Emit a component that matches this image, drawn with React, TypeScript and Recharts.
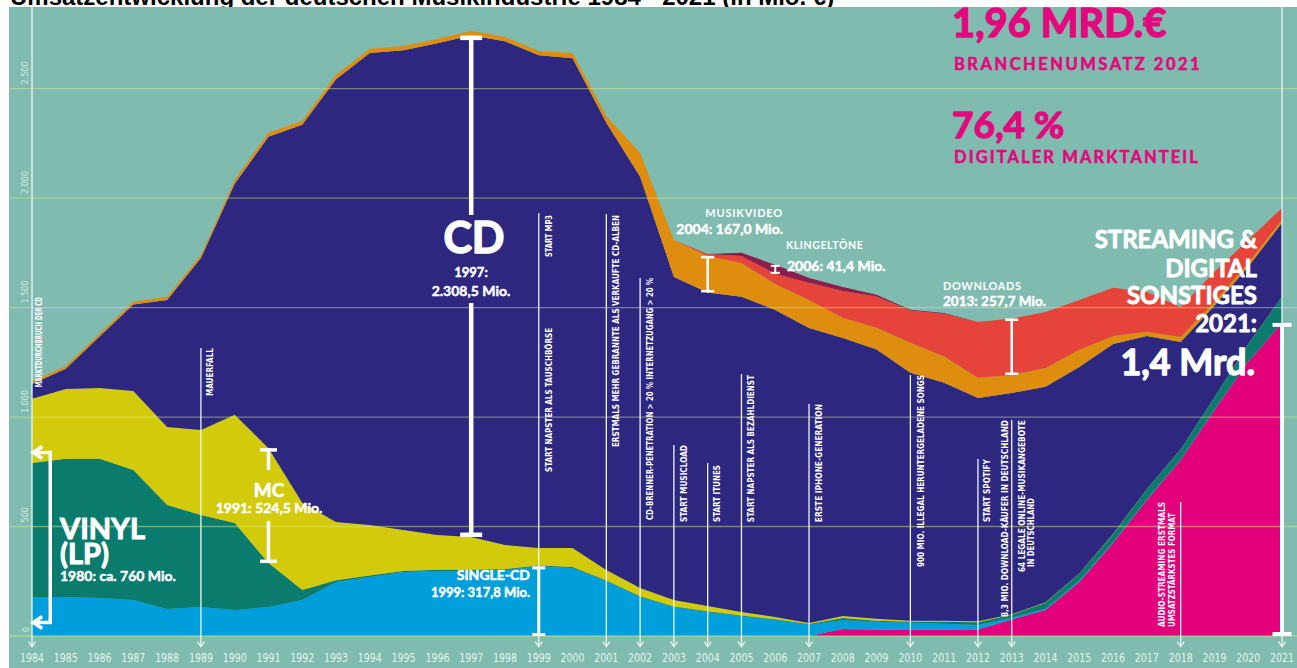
import React from 'react';
import { AreaChart, Area, XAxis, YAxis, ReferenceLine } from 'recharts';

// ---------- data (Mio. €) ----------
const years = [1984, 1985, 1986, 1987, 1988, 1989, 1990, 1991, 1992, 1993, 1994, 1995, 1996, 1997, 1998, 1999, 2000, 2001, 2002, 2003, 2004, 2005, 2006, 2007, 2008, 2009, 2010, 2011, 2012, 2013, 2014, 2015, 2016, 2017, 2018, 2019, 2020, 2021];
const streaming = [0, 0, 0, 0, 0, 0, 0, 0, 0, 0, 0, 0, 0, 0, 0, 0, 0, 0, 0, 0, 0, 0, 0, 0, 32, 28, 28, 28, 30, 75, 119, 247, 425, 621, 804, 1032, 1252, 1430];
const singles = [178, 178, 174, 164, 123, 132, 119, 132, 164, 247, 270, 292, 297, 297, 302, 318, 311, 251, 178, 132, 110, 91, 74, 52, 41, 37, 32, 28, 20, 8, 6, 5, 3, 3, 2, 2, 2, 1];
const vinyl = [612, 631, 635, 594, 475, 421, 397, 201, 46, 8, 6, 5, 5, 5, 4, 4, 4, 3, 3, 3, 3, 3, 3, 3, 9, 5, 5, 9, 13, 14, 27, 32, 37, 46, 46, 55, 78, 119];
const mc = [293, 319, 324, 361, 357, 388, 494, 525, 398, 266, 231, 187, 159, 150, 110, 80, 87, 47, 38, 29, 24, 16, 10, 4, 9, 9, 5, 5, 4, 2, 2, 2, 2, 1, 1, 1, 1, 1];
const cd = [68, 93, 235, 395, 580, 785, 1055, 1422, 1727, 2022, 2155, 2191, 2246, 2290, 2300, 2250, 2236, 2043, 1878, 1476, 1432, 1439, 1402, 1348, 1270, 1229, 1132, 1087, 1020, 1011, 984, 943, 867, 699, 490, 418, 353, 336];
const video = [10, 12, 12, 12, 14, 14, 18, 18, 18, 20, 20, 20, 20, 22, 20, 20, 25, 31, 109, 169, 167, 155, 119, 128, 92, 100, 137, 119, 92, 82, 86, 78, 36, 19, 23, 18, 18, 14];
const downloads = [0, 0, 0, 0, 0, 0, 0, 0, 0, 0, 0, 0, 0, 0, 0, 0, 0, 0, 0, 0, 9, 32, 46, 78, 123, 142, 147, 196, 255, 258, 256, 228, 220, 182, 137, 137, 105, 54];
const ringtones = [0, 0, 0, 0, 0, 0, 0, 0, 0, 0, 0, 0, 0, 0, 0, 0, 0, 0, 0, 0, 0, 14, 41, 22, 18, 9, 4, 3, 0, 0, 0, 0, 0, 0, 0, 0, 0, 0];

const yTicks = [0, 500, 1000, 1500, 2000, 2500];
const yTickLabels = ['0', '500', '1.000', '1.500', '2.000', '2.500'];

type Lbl = { text: string; dx: number; dy: number; anchor: 'start' | 'end'; len: number };
const events: { year: number; top: number; labels: Lbl[] }[] = [
  { year: 1984, top: 2872, labels: [{ text: 'MARKTDURCHBRUCH DER CD', dx: 7, dy: 380, anchor: 'start', len: 90 }] },
  { year: 1989, top: 1315, labels: [{ text: 'MAUERFALL', dx: 9, dy: 0, anchor: 'end', len: 48 }] },
  { year: 1999, top: 1932, labels: [{ text: 'START MP3', dx: 10, dy: 2, anchor: 'end', len: 42 }, { text: 'START NAPSTER ALS TAUSCHBÖRSE', dx: 10, dy: 115, anchor: 'end', len: 144 }] },
  { year: 2001, top: 1927, labels: [{ text: 'ERSTMALS MEHR GEBRANNTE ALS VERKAUFTE CD-ALBEN', dx: 10, dy: 1, anchor: 'end', len: 232 }] },
  { year: 2002, top: 1635, labels: [{ text: 'CD-BRENNER-PENETRATION > 20 % INTERNETZUGANG > 20 %', dx: 10, dy: 0, anchor: 'end', len: 242 }] },
  { year: 2003, top: 872, labels: [{ text: 'START MUSICLOAD', dx: 10, dy: 0, anchor: 'end', len: 77 }] },
  { year: 2004, top: 790, labels: [{ text: 'START ITUNES', dx: 10, dy: 2, anchor: 'end', len: 57 }] },
  { year: 2005, top: 1196, labels: [{ text: 'START NAPSTER ALS BEZAHLDIENST', dx: 10, dy: 1, anchor: 'end', len: 147 }] },
  { year: 2007, top: 1059, labels: [{ text: 'ERSTE IPHONE-GENERATION', dx: 10, dy: 0, anchor: 'end', len: 118 }] },
  { year: 2010, top: 1192, labels: [{ text: '900 MIO. ILLEGAL HERUNTERGELADENE SONGS', dx: 11, dy: 0, anchor: 'end', len: 192 }] },
  { year: 2012, top: 808, labels: [{ text: 'START SPOTIFY', dx: 9.5, dy: 0, anchor: 'end', len: 63 }] },
  { year: 2013, top: 986, labels: [{ text: '8,3 MIO. DOWNLOAD-KÄUFER IN DEUTSCHLAND', dx: -7, dy: 0, anchor: 'end', len: 197 }, { text: '64 LEGALE ONLINE-MUSIKANGEBOTE', dx: 10, dy: 0, anchor: 'end', len: 152 }, { text: 'IN DEUTSCHLAND', dx: 19, dy: 147, anchor: 'start', len: 69 }] },
  { year: 2018, top: 612, labels: [{ text: 'AUDIO-STREAMING ERSTMALS', dx: -18, dy: 125, anchor: 'start', len: 125 }, { text: 'UMSATZSTÄRKSTES FORMAT', dx: -8, dy: 125, anchor: 'start', len: 114 }] },
  { year: 2021, top: 2872, labels: [] },
];

const rows = years.map((year, i) => ({
  year,
  streaming: streaming[i],
  singles: singles[i],
  vinyl: vinyl[i],
  mc: mc[i],
  cd: cd[i],
  video: video[i],
  downloads: downloads[i],
  ringtones: ringtones[i],
}));

const idx = (y: number) => years.indexOf(y);
const i91 = idx(1991), i97 = idx(1997), i99 = idx(1999), i04 = idx(2004), i06 = idx(2006), i13 = idx(2013), i21 = idx(2021);
const mcLow = singles[i91] + vinyl[i91];
const cdLow = singles[i97] + vinyl[i97] + mc[i97];
const vidLow = streaming[i04] + singles[i04] + vinyl[i04] + mc[i04] + cd[i04];
const rtLow = streaming[i06] + singles[i06] + vinyl[i06] + mc[i06] + cd[i06] + video[i06] + downloads[i06];
const dlLow = streaming[i13] + singles[i13] + vinyl[i13] + mc[i13] + cd[i13] + video[i13];

// ---------- style ----------
const TEAL = '#7FBBAF';
const C = {
  streaming: '#E3007B',
  singles: '#009FDB',
  vinyl: '#0B7B6D',
  mc: '#D2CA0A',
  cd: '#2D2780',
  video: '#DF8D0F',
  downloads: '#E6443A',
  ringtones: '#8E1D4B',
};
const PINK = '#E2097F';
const LINE = '#EEF6F3';
const BIG = "Lato, 'Open Sans', sans-serif";
const COND = "'DejaVu Sans Condensed', 'Liberation Sans Narrow', sans-serif";

const EventShape = (p: any, labels: Lbl[]) => {
  const x = p.x1;
  const top = Math.min(p.y1, p.y2);
  const bot = Math.max(p.y1, p.y2);
  return (
    <g>
      <line x1={x} x2={x} y1={top} y2={bot} stroke={LINE} strokeWidth={1.3} />
      <polyline points={`${x - 3.5},${bot - 5} ${x},${bot} ${x + 3.5},${bot - 5}`} fill="none" stroke={LINE} strokeWidth={1.3} />
      {labels.map((l, i) => {
        const lx = x + l.dx + 2.8;
        const ly = top + l.dy;
        return (
          <text key={i} x={lx} y={ly} transform={`rotate(-90 ${lx} ${ly})`} textAnchor={l.anchor} fontSize={8} fontWeight="bold" fontFamily={COND} fill="#fff" textLength={l.len} lengthAdjust="spacingAndGlyphs">
            {l.text}
          </text>
        );
      })}
    </g>
  );
};

const BracketShape = (p: any, w: number, sw: number, gap?: [number, number]) => {
  const x = p.x1;
  const top = Math.min(p.y1, p.y2);
  const bot = Math.max(p.y1, p.y2);
  return (
    <g stroke="#fff" strokeWidth={sw}>
      {gap ? (
        <>
          <line x1={x} x2={x} y1={top} y2={gap[0]} />
          <line x1={x} x2={x} y1={gap[1]} y2={bot} />
        </>
      ) : (
        <line x1={x} x2={x} y1={top} y2={bot} />
      )}
      <line x1={x - w / 2} x2={x + w / 2} y1={top + sw / 2} y2={top + sw / 2} />
      <line x1={x - w / 2} x2={x + w / 2} y1={bot - sw / 2} y2={bot - sw / 2} />
    </g>
  );
};

const VinylArrow = (p: any) => {
  const x = p.x1;
  const top = Math.min(p.y1, p.y2);
  const bot = Math.max(p.y1, p.y2);
  const tip = x - 17;
  return (
    <g stroke="#fff" strokeWidth={3.5} fill="none" strokeLinejoin="miter">
      <polyline points={`${tip},${top} ${x},${top} ${x},${bot} ${tip},${bot}`} />
      <polyline points={`${tip + 9},${top - 6} ${tip},${top} ${tip + 9},${top + 6}`} />
      <polyline points={`${tip + 9},${bot - 6} ${tip},${bot} ${tip + 9},${bot + 6}`} />
    </g>
  );
};

const YTick = (props: any) => {
  const { y, payload } = props;
  const k = yTicks.indexOf(payload.value);
  const lx = 28.5;
  const ly = y - 4;
  return (
    <text x={lx} y={ly} transform={`rotate(-90 ${lx} ${ly})`} textAnchor="start" fontSize={9} fontFamily={COND} fill="#D5EAE3">
      {yTickLabels[k]}
    </text>
  );
};

const XTick = (props: any) => {
  const { x, y, payload } = props;
  return (
    <text x={x} y={y + 18} textAnchor="middle" fontSize={12.5} fontFamily={COND} fill="#E8F3EF" textLength={24} lengthAdjust="spacingAndGlyphs">
      {payload.value}
    </text>
  );
};

const T = (p: { x: number; y: number; s: number; a?: 'start' | 'middle' | 'end'; c?: string; ls?: number; w?: number; k?: number; children: React.ReactNode }) => {
  const col = p.c || '#fff';
  const sw = p.k === undefined ? p.s * 0.035 : p.k;
  return (
    <text x={p.x} y={p.y} fontSize={p.s} textAnchor={p.a || 'start'} fill={col} stroke={col} strokeWidth={sw} strokeLinejoin="round" fontFamily={BIG} fontWeight={p.w || 700} letterSpacing={p.ls || 0}>
      {p.children}
    </text>
  );
};

export default function App() {
  const gridX: [number, number] = [1983.33, 2021.46];
  return (
    <div style={{ position: 'absolute', left: 0, top: 0, width: 1297, height: 668, background: '#fff', overflow: 'hidden' }}>
      <svg width={1297} height={668} style={{ position: 'absolute', left: 0, top: 0 }}>
        <text x={10} y={5} fontSize={24} fontWeight="bold" fontFamily="'Liberation Sans', Arial, sans-serif" fill="#000">
          Umsatzentwicklung der deutschen Musikindustrie 1984 - 2021 (in Mio. €)
        </text>
        <rect x={9} y={7} width={1288} height={661} fill={TEAL} />
      </svg>
      <div style={{ position: 'absolute', left: 0, top: 0 }}>
        <AreaChart width={1297} height={668} data={rows} margin={{ top: 1, right: 15, bottom: 0, left: 0 }}>
          <XAxis dataKey="year" type="number" domain={[1984, 2021]} ticks={years} interval={0} height={32} axisLine={false} tickLine={false} tick={XTick} allowDataOverflow />
          <YAxis type="number" domain={[0, 2900]} ticks={yTicks} interval={0} width={32} axisLine={false} tickLine={false} tick={YTick} allowDataOverflow />
          <Area type="linear" dataKey="streaming" stackId="1" fill={C.streaming} fillOpacity={1} stroke="none" isAnimationActive={false} dot={false} activeDot={false} />
          <Area type="linear" dataKey="singles" stackId="1" fill={C.singles} fillOpacity={1} stroke="none" isAnimationActive={false} dot={false} activeDot={false} />
          <Area type="linear" dataKey="vinyl" stackId="1" fill={C.vinyl} fillOpacity={1} stroke="none" isAnimationActive={false} dot={false} activeDot={false} />
          <Area type="linear" dataKey="mc" stackId="1" fill={C.mc} fillOpacity={1} stroke="none" isAnimationActive={false} dot={false} activeDot={false} />
          <Area type="linear" dataKey="cd" stackId="1" fill={C.cd} fillOpacity={1} stroke="none" isAnimationActive={false} dot={false} activeDot={false} />
          <Area type="linear" dataKey="video" stackId="1" fill={C.video} fillOpacity={1} stroke="none" isAnimationActive={false} dot={false} activeDot={false} />
          <Area type="linear" dataKey="downloads" stackId="1" fill={C.downloads} fillOpacity={1} stroke="none" isAnimationActive={false} dot={false} activeDot={false} />
          <Area type="linear" dataKey="ringtones" stackId="1" fill={C.ringtones} fillOpacity={1} stroke="none" isAnimationActive={false} dot={false} activeDot={false} />
          {yTicks.map((v) => (
            <ReferenceLine key={'g' + v} segment={[{ x: gridX[0], y: v }, { x: gridX[1], y: v }]} stroke="#E0F080" strokeOpacity={0.45} strokeWidth={1.3} ifOverflow="visible" />
          ))}
          {events.map((e) => (
            <ReferenceLine key={'e' + e.year} segment={[{ x: e.year, y: e.top }, { x: e.year, y: -48 }]} ifOverflow="visible" shape={(p: any) => EventShape(p, e.labels)} />
          ))}
          <ReferenceLine segment={[{ x: 1997, y: cdLow + cd[i97] }, { x: 1997, y: cdLow }]} ifOverflow="visible" shape={(p: any) => BracketShape(p, 22, 4.5, [215, 303])} />
          <ReferenceLine segment={[{ x: 1991, y: mcLow + mc[i91] }, { x: 1991, y: mcLow }]} ifOverflow="visible" shape={(p: any) => BracketShape(p, 17, 3.5, [470, 521])} />
          <ReferenceLine segment={[{ x: 1999, y: singles[i99] }, { x: 1999, y: 0 }]} ifOverflow="visible" shape={(p: any) => BracketShape(p, 13, 3)} />
          <ReferenceLine segment={[{ x: 2004, y: vidLow + video[i04] }, { x: 2004, y: vidLow }]} ifOverflow="visible" shape={(p: any) => BracketShape(p, 13, 2.5)} />
          <ReferenceLine segment={[{ x: 2006, y: rtLow + ringtones[i06] }, { x: 2006, y: rtLow }]} ifOverflow="visible" shape={(p: any) => BracketShape(p, 9, 2)} />
          <ReferenceLine segment={[{ x: 2013, y: dlLow + downloads[i13] }, { x: 2013, y: dlLow }]} ifOverflow="visible" shape={(p: any) => BracketShape(p, 13, 2.5)} />
          <ReferenceLine segment={[{ x: 2021, y: streaming[i21] }, { x: 2021, y: 0 }]} ifOverflow="visible" shape={(p: any) => BracketShape(p, 19, 4)} />
          <ReferenceLine segment={[{ x: 1984.54, y: 838 }, { x: 1984.54, y: 62 }]} ifOverflow="visible" shape={VinylArrow} />
        </AreaChart>
      </div>
      <svg width={1297} height={668} style={{ position: 'absolute', left: 0, top: 0, pointerEvents: 'none' }}>
        <T x={952} y={37} s={40} c={PINK}>1,96 MRD.€</T>
        <T x={954} y={70} s={16.5} c={PINK} ls={2.5}>BRANCHENUMSATZ 2021</T>
        <T x={952} y={138} s={37} c={PINK}>76,4 %</T>
        <T x={954} y={163} s={16.5} c={PINK} ls={2.1}>DIGITALER MARKTANTEIL</T>

        <T x={1257} y={248} s={24} a="end">STREAMING &amp;</T>
        <T x={1257} y={277} s={24} a="end">DIGITAL</T>
        <T x={1257} y={304} s={24} a="end">SONSTIGES</T>
        <T x={1257} y={332} s={24} a="end">2021:</T>
        <T x={1255} y={375} s={36} a="end">1,4 Mrd.</T>

        <T x={474} y={253} s={43} a="middle">CD</T>
        <T x={471} y={277} s={13} a="middle">1997:</T>
        <T x={471} y={296} s={14} a="middle">2.308,5 Mio.</T>

        <T x={269} y={497} s={19} a="middle">MC</T>
        <T x={269} y={513} s={14} a="middle">1991: 524,5 Mio.</T>

        <T x={60} y={539} s={29}>VINYL</T>
        <T x={60} y={564} s={29}>(LP)</T>
        <T x={60} y={581} s={14}>1980: ca. 760 Mio.</T>

        <T x={530} y={580} s={14} a="end">SINGLE-CD</T>
        <T x={530} y={597} s={13} a="end">1999: 317,8 Mio.</T>

        <T x={783} y={217} s={11} a="end" ls={0.8} k={0}>MUSIKVIDEO</T>
        <T x={783} y={234} s={14} a="end">2004: 167,0 Mio.</T>

        <T x={786} y={249} s={10.5} ls={0.6} k={0}>KLINGELTÖNE</T>
        <T x={787} y={271} s={14}>2006: 41,4 Mio.</T>

        <T x={943} y={290} s={11} ls={0.6} k={0}>DOWNLOADS</T>
        <T x={943} y={306} s={13.5}>2013: 257,7 Mio.</T>
      </svg>
    </div>
  );
}
